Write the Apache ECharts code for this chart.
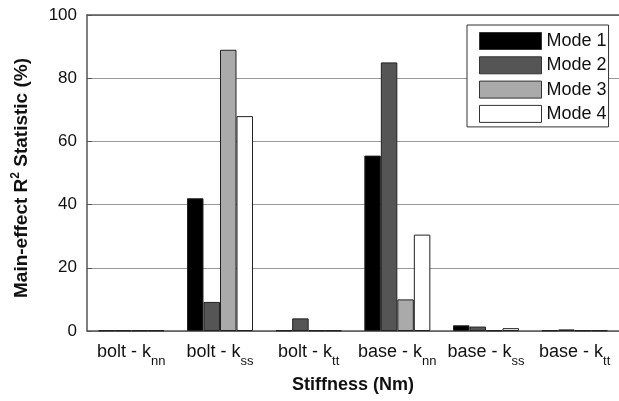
<!DOCTYPE html>
<html>
<head>
<meta charset="utf-8">
<script src="https://cdn.jsdelivr.net/npm/echarts@6/dist/echarts.min.js"></script>
<style>html,body{margin:0;padding:0;background:#fff}#c{width:619px;height:401px}</style>
</head>
<body>
<div id="c"></div>
<script>
// Data
const categories = [
  ['bolt - k', 'nn'],
  ['bolt - k', 'ss'],
  ['bolt - k', 'tt'],
  ['base - k', 'nn'],
  ['base - k', 'ss'],
  ['base - k', 'tt']
];
const seriesNames = ['Mode 1', 'Mode 2', 'Mode 3', 'Mode 4'];
const mode1 = [0.2, 42, 0.2, 55.5, 1.8, 0.2];
const mode2 = [0.2, 9.2, 4, 85, 1.4, 0.5];
const mode3 = [0.2, 89, 0.2, 10, 0.2, 0.2];
const mode4 = [0.2, 68, 0.2, 30.5, 0.9, 0.2];
const yTicks = [0, 20, 40, 60, 80, 100];

const colors = ['#000000', '#555555', '#aaaaaa', '#ffffff'];
const catLabels = categories.map(c => c[0] + '|' + c[1]);
const seriesData = [mode1, mode2, mode3, mode4];

const chart = echarts.init(document.getElementById('c'));
const FONT = '"Liberation Sans", Arial, sans-serif';
chart.setOption({
  animation: false,
  backgroundColor: '#fff',
  grid: { left: 87, right: -8, top: 15, bottom: 70, containLabel: false },
  legend: {
    data: seriesNames,
    orient: 'vertical',
    left: 467, top: 25,
    padding: [7, 2, 4, 12],
    itemWidth: 62, itemHeight: 17, itemGap: 6.3,
    backgroundColor: '#fff',
    borderColor: '#333', borderWidth: 1,
    textStyle: { fontFamily: FONT, fontSize: 18, lineHeight: 17, color: '#111' },
    itemStyle: { borderColor: '#333', borderWidth: 1 },
    icon: 'rect'
  },
  xAxis: [{
    type: 'category',
    data: catLabels,
    position: 'bottom',
    axisLine: { lineStyle: { color: '#555', width: 1.5 } },
    axisTick: { inside: true, alignWithLabel: true, length: 5, lineStyle: { color: '#555' } },
    axisLabel: {
      interval: 0,
      margin: 5,
      formatter: v => { const p = v.split('|'); return '{a|' + p[0] + '}{s|' + p[1] + '}'; },
      rich: {
        a: { fontFamily: FONT, fontSize: 18, color: '#111' },
        s: { fontFamily: FONT, fontSize: 13, color: '#111', padding: [19, 0, 0, 0] }
      }
    },
    name: 'Stiffness (Nm)',
    nameLocation: 'middle',
    nameGap: 45,
    nameTextStyle: { fontFamily: FONT, fontSize: 18, fontWeight: 'bold', color: '#111' }
  }, {
    type: 'category',
    data: catLabels,
    position: 'top',
    axisLine: { lineStyle: { color: '#555', width: 1.5 } },
    axisTick: { inside: true, alignWithLabel: true, length: 5, lineStyle: { color: '#555' } },
    axisLabel: { show: false }
  }],
  yAxis: {
    type: 'value',
    min: yTicks[0], max: yTicks[yTicks.length - 1], interval: 20,
    axisLine: { show: true, lineStyle: { color: '#555', width: 1.5 } },
    axisTick: { show: true, inside: true, length: 5, lineStyle: { color: '#555' } },
    splitLine: { lineStyle: { color: '#999', width: 1 } },
    axisLabel: { margin: 10, fontFamily: FONT, fontSize: 17, color: '#111' },
    name: '{a|Main-effect R}{sup|2}{a| Statistic (%)}',
    nameLocation: 'middle',
    nameRotate: 90,
    nameGap: 53,
    nameTextStyle: {
      padding: [0, 10, 0, 0],
      rich: {
        a: { fontFamily: FONT, fontSize: 19, fontWeight: 'bold', color: '#111' },
        sup: { fontFamily: FONT, fontSize: 12, fontWeight: 'bold', color: '#111', padding: [0, 0, 12, 0] }
      }
    }
  },
  series: seriesData.map((d, i) => ({
    name: seriesNames[i],
    type: 'bar',
    data: d,
    barWidth: 16.5,
    barGap: '0%',
    itemStyle: { color: colors[i], borderColor: '#222', borderWidth: 1 }
  }))
});
</script>
</body>
</html>
